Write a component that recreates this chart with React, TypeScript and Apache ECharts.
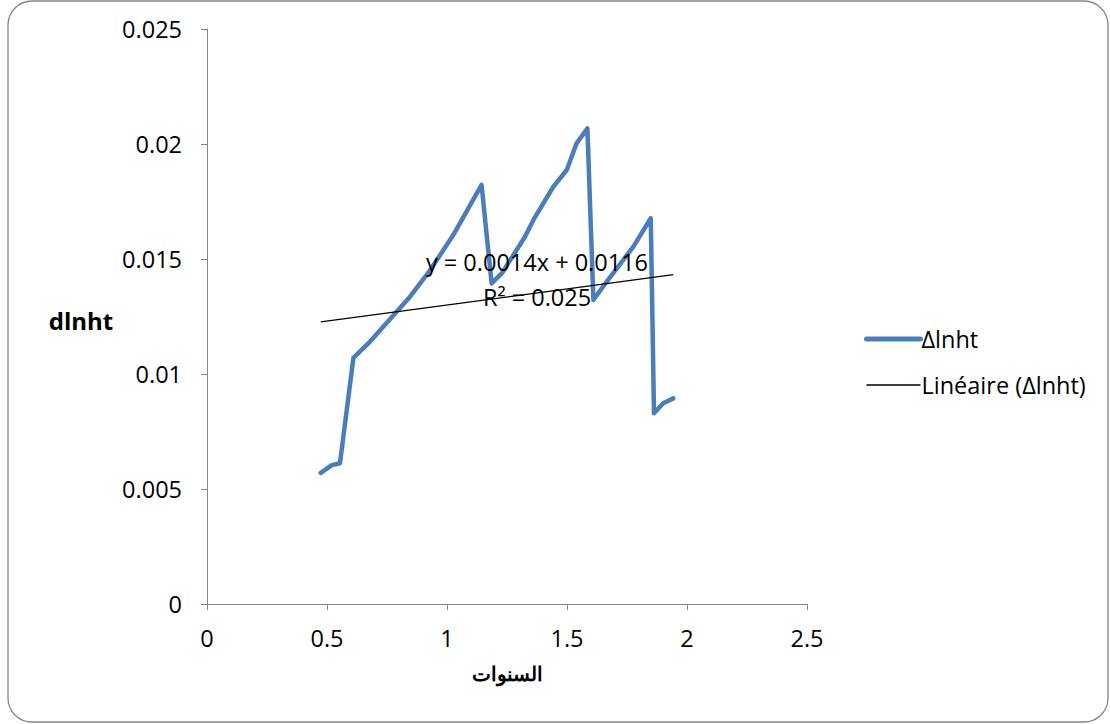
import React, { useEffect, useRef } from "react";
import * as echarts from "echarts";

const xValues = [0.474, 0.52, 0.554, 0.61, 0.672, 0.846, 0.93, 1.026, 1.144, 1.186, 1.23, 1.325, 1.36, 1.443, 1.499, 1.54, 1.585, 1.61, 1.665, 1.776, 1.849, 1.8625, 1.901, 1.943];
const yValues = [0.0057, 0.00604, 0.00612, 0.0107, 0.01133, 0.01336, 0.01452, 0.01604, 0.01822, 0.01394, 0.0144, 0.01597, 0.0167, 0.01814, 0.01887, 0.02003, 0.02068, 0.01322, 0.01401, 0.01553, 0.01677, 0.00829, 0.00873, 0.00894];
const xTicks = [0, 0.5, 1, 1.5, 2, 2.5];
const yTicks = [0, 0.005, 0.01, 0.015, 0.02, 0.025];
const trendSlope = 0.0014;
const trendIntercept = 0.0116;
const seriesName = "Δlnht";
const trendName = "Linéaire (Δlnht)";
const xTitle = "السنوات";
const yTitle = "dlnht";
const eqText = "y = 0.0014x + 0.0116";
const r2Text = "R² = 0.025";

const FONT = "'Open Sans', 'Noto Sans', sans-serif";
const FS = 23.5;

export default function App() {
  const ref = useRef<HTMLDivElement>(null);
  useEffect(() => {
    if (!ref.current) return;
    const chart = echarts.init(ref.current, undefined, { renderer: "svg" });
    const data = xValues.map((x, i) => [x, yValues[i]]);
    const xMin = Math.min(...xValues);
    const xMax = Math.max(...xValues);
    const trend = [xMin, xMax].map((x) => [x, trendSlope * x + trendIntercept]);
    const axisColor = "#868686";
    chart.setOption({
      animation: false,
      backgroundColor: "#ffffff",
      grid: { left: 207, top: 29, width: 600, height: 575, containLabel: false },
      xAxis: {
        type: "value",
        min: xTicks[0],
        max: xTicks[xTicks.length - 1],
        interval: xTicks[1] - xTicks[0],
        splitLine: { show: false },
        axisLine: { show: true, onZero: false, lineStyle: { color: axisColor, width: 1 } },
        axisTick: { show: true, length: 6, lineStyle: { color: axisColor } },
        axisLabel: { color: "#000", fontFamily: FONT, fontSize: FS, margin: 22 },
      },
      yAxis: {
        type: "value",
        min: yTicks[0],
        max: yTicks[yTicks.length - 1],
        interval: yTicks[1] - yTicks[0],
        splitLine: { show: false },
        axisLine: { show: true, onZero: false, lineStyle: { color: axisColor, width: 1 } },
        axisTick: { show: true, length: 6, lineStyle: { color: axisColor } },
        axisLabel: { color: "#000", fontFamily: FONT, fontSize: FS, margin: 25 },
      },
      legend: {
        orient: "vertical",
        left: 864,
        top: 327,
        padding: 0,
        itemWidth: 54,
        itemHeight: 14,
        itemGap: 22,
        itemStyle: { opacity: 0 },
        textStyle: { color: "#000", fontFamily: FONT, fontSize: FS, padding: [0, 0, 0, -4] },
        data: [
          { name: seriesName, lineStyle: { width: 5, color: "#4A7EBB", cap: "round" } },
          { name: trendName, lineStyle: { width: 1.3, color: "#000" } },
        ],
      },
      series: [
        {
          name: seriesName,
          type: "line",
          data,
          symbol: "none",
          lineStyle: { color: "#4A7EBB", width: 4.5, join: "round", cap: "round" },
          itemStyle: { color: "#4A7EBB" },
          z: 2,
        },
        {
          name: trendName,
          type: "line",
          data: trend,
          symbol: "none",
          lineStyle: { color: "#000", width: 1.3 },
          itemStyle: { color: "#000" },
          z: 3,
        },
      ],
      graphic: [
        {
          type: "rect",
          shape: { x: 8, y: 1, width: 1100, height: 721, r: 24 },
          style: { fill: "none", stroke: "#868686", lineWidth: 1.3 },
          silent: true,
        },
        {
          type: "text",
          x: 537,
          y: 262,
          style: { text: eqText, fill: "#000", font: `${FS}px ${FONT}`, align: "center", verticalAlign: "middle" },
          z: 10,
        },
        {
          type: "text",
          x: 537,
          y: 297,
          style: { text: r2Text, fill: "#000", font: `${FS}px ${FONT}`, align: "center", verticalAlign: "middle" },
          z: 10,
        },
        {
          type: "text",
          x: 81,
          y: 320,
          style: { text: yTitle, fill: "#000", font: `bold 24px ${FONT}`, align: "center", verticalAlign: "middle" },
        },
        {
          type: "text",
          x: 507,
          y: 673,
          style: { text: xTitle, fill: "#000", font: `bold 20px ${FONT}`, align: "center", verticalAlign: "middle" },
        },
      ],
    });
    return () => chart.dispose();
  }, []);
  return (
    <div
      ref={ref}
      style={{ position: "fixed", left: 0, top: 0, width: 1110, height: 724 }}
    />
  );
}
